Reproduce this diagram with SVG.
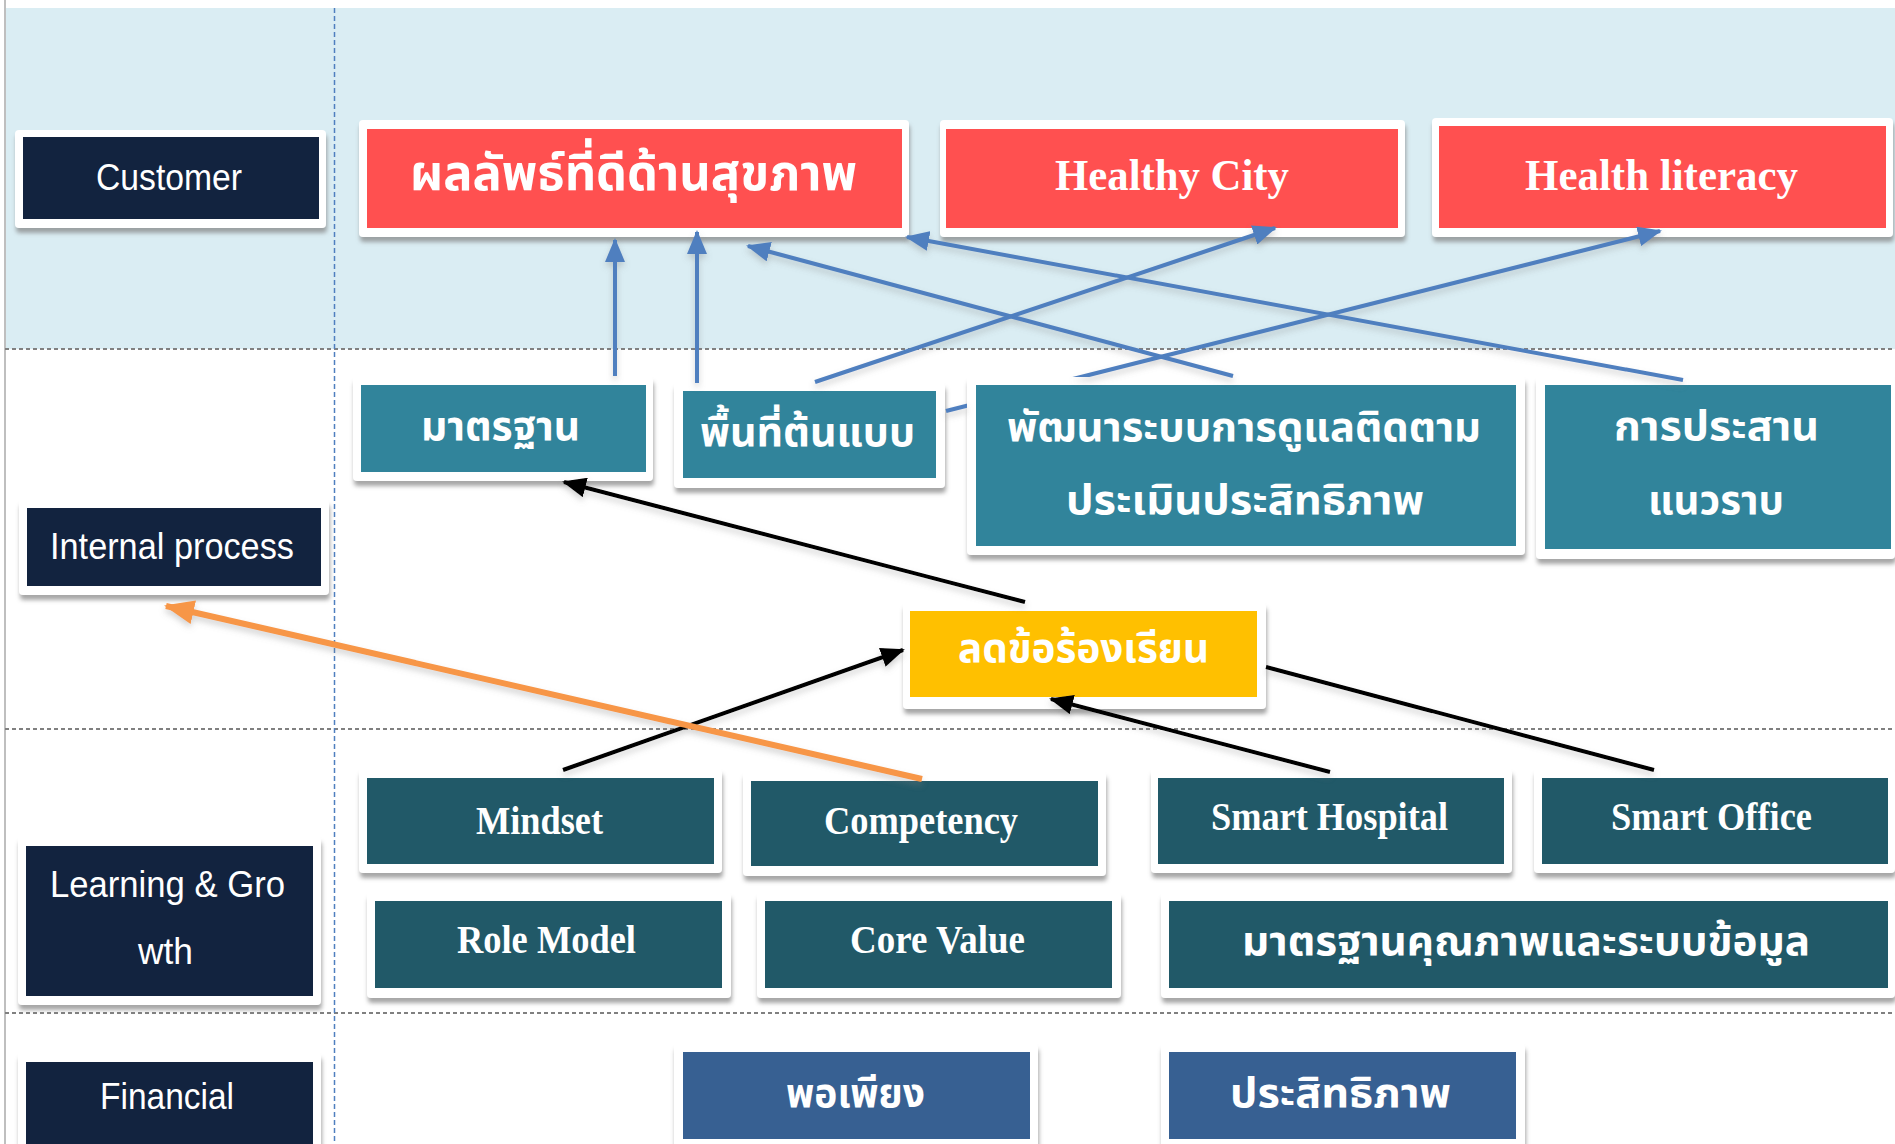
<svg xmlns="http://www.w3.org/2000/svg" width="1895" height="1144" viewBox="0 0 1895 1144">
<style>
.card{fill:#ffffff;filter:url(#sh)}
.navy{fill:#12233f}
.red{fill:#ff5050}
.teal{fill:#31849b}
.dteal{fill:#215968}
.fin{fill:#376092}
.yel{fill:#ffc000}
.lab{font-family:"Liberation Sans",Arial,sans-serif;font-size:36px;fill:#ffffff}
.th{font-family:"Noto Sans Thai","Noto Serif Thai","Loma","Garuda","Tlwg Typo",sans-serif;font-weight:bold;fill:#ffffff}
.en{font-family:"Liberation Serif","Times New Roman",serif;font-weight:bold;fill:#ffffff}
.dash{stroke:#808080;stroke-width:2;stroke-dasharray:4 3;fill:none}
.cb{stroke:#4f7fbf;stroke-width:4;fill:none;marker-end:url(#ab)}
.ck{stroke:#000000;stroke-width:4;fill:none}
.ca{marker-end:url(#ak)}
.co{stroke:#f79646;stroke-width:6;fill:none;marker-end:url(#ao)}
</style>
<defs>
<filter id="sh" x="-5%" y="-10%" width="110%" height="130%">
<feDropShadow dx="1" dy="5" stdDeviation="2" flood-color="#808080" flood-opacity="0.7"/>
</filter>
<filter id="lsh" x="-5%" y="-20%" width="110%" height="140%">
<feDropShadow dx="0" dy="4" stdDeviation="3" flood-color="#808080" flood-opacity="0.35"/>
</filter>
<clipPath id="behindCard">
<path clip-rule="evenodd" d="M0,0 H1895 V1144 H0 Z M967,377 H1525 V555 H967 Z"/>
</clipPath>
<marker id="ab" markerUnits="userSpaceOnUse" markerWidth="24" markerHeight="20" refX="22" refY="10" orient="auto">
<path d="M0,0 L24,10 L0,20 Z" fill="#4f7fbf"/>
</marker>
<marker id="ak" markerUnits="userSpaceOnUse" markerWidth="24" markerHeight="20" refX="22" refY="10" orient="auto">
<path d="M0,0 L24,10 L0,20 Z" fill="#000000"/>
</marker>
<marker id="ao" markerUnits="userSpaceOnUse" markerWidth="30" markerHeight="24" refX="28" refY="12" orient="auto">
<path d="M0,0 L30,12 L0,24 Z" fill="#f79646"/>
</marker>
</defs>

<g id="background">
<rect x="0" y="0" width="1895" height="1144" fill="#ffffff"/>
<rect x="5" y="8" width="1890" height="341" fill="#daedf3"/>
<line x1="5" y1="0" x2="5" y2="1144" stroke="#bfbfbf" stroke-width="2"/>
<line class="dash" x1="5" y1="349" x2="1895" y2="349"/>
<line class="dash" x1="5" y1="729" x2="1895" y2="729"/>
<line class="dash" x1="5" y1="1013" x2="1895" y2="1013"/>
<line x1="334.5" y1="8" x2="334.5" y2="1144" stroke="#4f7fbf" stroke-width="1.5" stroke-dasharray="5 3"/>
</g>

<g id="customer">
<rect class="card" x="15" y="130" width="311" height="98" rx="4"/>
<rect class="navy" x="23" y="137" width="296" height="82"/>
<text class="lab" x="169" y="190" text-anchor="middle" textLength="146" lengthAdjust="spacingAndGlyphs">Customer</text>
</g>
<g id="internal-process">
<rect class="card" x="19" y="500" width="310" height="95" rx="4"/>
<rect class="navy" x="27" y="508" width="294" height="78"/>
<text class="lab" x="172" y="559" text-anchor="middle" textLength="244" lengthAdjust="spacingAndGlyphs">Internal process</text>
</g>
<g id="learning-growth">
<rect class="card" x="18" y="837" width="303" height="168" rx="4"/>
<rect class="navy" x="26" y="846" width="287" height="150"/>
<text class="lab" x="167.5" y="897" text-anchor="middle" textLength="235" lengthAdjust="spacingAndGlyphs">Learning &amp; Gro</text>
<text class="lab" x="165.5" y="964" text-anchor="middle" textLength="55" lengthAdjust="spacingAndGlyphs">wth</text>
</g>
<g id="financial">
<rect class="card" x="18" y="1053" width="303" height="100" rx="4"/>
<rect class="navy" x="26" y="1062" width="287" height="82"/>
<text class="lab" x="167" y="1109" text-anchor="middle" textLength="134" lengthAdjust="spacingAndGlyphs">Financial</text>
</g>

<g id="health-outcome">
<rect class="card" x="359" y="120" width="550" height="117" rx="4"/>
<rect class="red" x="367" y="129" width="535" height="99"/>
<text class="th" x="633.5" y="190" font-size="50" text-anchor="middle" textLength="447" lengthAdjust="spacingAndGlyphs">ผลลัพธ์ที่ดีด้านสุขภาพ</text>
</g>
<g id="healthy-city">
<rect class="card" x="940" y="120" width="465" height="117" rx="4"/>
<rect class="red" x="946" y="129" width="452" height="99"/>
<text class="en" x="1172" y="190" font-size="44" text-anchor="middle" textLength="234" lengthAdjust="spacingAndGlyphs">Healthy City</text>
</g>
<g id="health-literacy">
<rect class="card" x="1432" y="118" width="461" height="119" rx="4"/>
<rect class="red" x="1439" y="126" width="447" height="102"/>
<text class="en" x="1661.5" y="190" font-size="44" text-anchor="middle" textLength="273" lengthAdjust="spacingAndGlyphs">Health literacy</text>
</g>

<g id="standard">
<rect class="card" x="353" y="377" width="300" height="104" rx="4"/>
<rect class="teal" x="361" y="385" width="285" height="87"/>
<text class="th" x="500.5" y="440" font-size="40" text-anchor="middle" textLength="159" lengthAdjust="spacingAndGlyphs">มาตรฐาน</text>
</g>
<g id="model-area">
<rect class="card" x="674" y="383" width="271" height="105" rx="4"/>
<rect class="teal" x="683" y="391" width="253" height="87"/>
<text class="th" x="807.5" y="446" font-size="40" text-anchor="middle" textLength="215" lengthAdjust="spacingAndGlyphs">พื้นที่ต้นแบบ</text>
</g>
<g id="monitoring-system">
<rect class="card" x="967" y="377" width="558" height="178" rx="4"/>
<rect class="teal" x="976" y="385" width="540" height="161"/>
<text class="th" x="1244" y="441" font-size="40" text-anchor="middle" textLength="474" lengthAdjust="spacingAndGlyphs">พัฒนาระบบการดูแลติดตาม</text>
<text class="th" x="1245" y="514" font-size="40" text-anchor="middle" textLength="358" lengthAdjust="spacingAndGlyphs">ประเมินประสิทธิภาพ</text>
</g>
<g id="coordination">
<rect class="card" x="1536" y="377" width="359" height="182" rx="4"/>
<rect class="teal" x="1545" y="385" width="346" height="164"/>
<text class="th" x="1716.5" y="440" font-size="40" text-anchor="middle" textLength="205" lengthAdjust="spacingAndGlyphs">การประสาน</text>
<text class="th" x="1716" y="514" font-size="40" text-anchor="middle" textLength="136" lengthAdjust="spacingAndGlyphs">แนวราบ</text>
</g>

<g id="reduce-complaints">
<rect class="card" x="903" y="603" width="363" height="106" rx="4"/>
<rect class="yel" x="910" y="611" width="347" height="86"/>
<text class="th" x="1083.5" y="662" font-size="40" text-anchor="middle" textLength="251" lengthAdjust="spacingAndGlyphs">ลดข้อร้องเรียน</text>
</g>

<g id="mindset">
<rect class="card" x="359" y="769" width="363" height="104" rx="4"/>
<rect class="dteal" x="367" y="778" width="347" height="86"/>
<text class="en" x="539.5" y="834" font-size="41" text-anchor="middle" textLength="127" lengthAdjust="spacingAndGlyphs">Mindset</text>
</g>
<g id="competency">
<rect class="card" x="743" y="772" width="363" height="104" rx="4"/>
<rect class="dteal" x="751" y="781" width="347" height="85"/>
<text class="en" x="921" y="834" font-size="41" text-anchor="middle" textLength="194" lengthAdjust="spacingAndGlyphs">Competency</text>
</g>
<g id="smart-hospital">
<rect class="card" x="1151" y="769" width="361" height="104" rx="4"/>
<rect class="dteal" x="1158" y="778" width="346" height="86"/>
<text class="en" x="1329.5" y="830" font-size="41" text-anchor="middle" textLength="237" lengthAdjust="spacingAndGlyphs">Smart Hospital</text>
</g>
<g id="smart-office">
<rect class="card" x="1534" y="769" width="361" height="104" rx="4"/>
<rect class="dteal" x="1542" y="778" width="346" height="86"/>
<text class="en" x="1711.5" y="830" font-size="41" text-anchor="middle" textLength="201" lengthAdjust="spacingAndGlyphs">Smart Office</text>
</g>
<g id="role-model">
<rect class="card" x="367" y="893" width="364" height="105" rx="4"/>
<rect class="dteal" x="375" y="901" width="347" height="87"/>
<text class="en" x="546.5" y="953" font-size="39" text-anchor="middle" textLength="179" lengthAdjust="spacingAndGlyphs">Role Model</text>
</g>
<g id="core-value">
<rect class="card" x="757" y="893" width="364" height="105" rx="4"/>
<rect class="dteal" x="765" y="901" width="347" height="87"/>
<text class="en" x="937.5" y="953" font-size="39" text-anchor="middle" textLength="175" lengthAdjust="spacingAndGlyphs">Core Value</text>
</g>
<g id="quality-data">
<rect class="card" x="1161" y="893" width="734" height="105" rx="4"/>
<rect class="dteal" x="1169" y="901" width="719" height="87"/>
<text class="th" x="1526" y="955" font-size="41" text-anchor="middle" textLength="568" lengthAdjust="spacingAndGlyphs">มาตรฐานคุณภาพและระบบข้อมูล</text>
</g>

<g id="sufficiency">
<rect class="card" x="674" y="1044" width="364" height="110" rx="4"/>
<rect class="fin" x="683" y="1052" width="347" height="87"/>
<text class="th" x="855.5" y="1107" font-size="41" text-anchor="middle" textLength="139" lengthAdjust="spacingAndGlyphs">พอเพียง</text>
</g>
<g id="efficiency">
<rect class="card" x="1161" y="1044" width="364" height="110" rx="4"/>
<rect class="fin" x="1169" y="1052" width="347" height="87"/>
<text class="th" x="1340.5" y="1107" font-size="41" text-anchor="middle" textLength="221" lengthAdjust="spacingAndGlyphs">ประสิทธิภาพ</text>
</g>

<g id="connectors" filter="url(#lsh)">
<line class="cb" x1="615" y1="376" x2="615" y2="240"/>
<line class="cb" x1="697" y1="383" x2="697" y2="232"/>
<line class="cb" x1="1233" y1="376" x2="748" y2="246"/>
<line class="cb" x1="1683" y1="380" x2="907" y2="237"/>
<line class="cb" x1="815" y1="382" x2="1275" y2="228"/>
<line class="cb" x1="946" y1="411" x2="1660" y2="231" clip-path="url(#behindCard)"/>
<line class="ck ca" x1="1025" y1="602" x2="564" y2="482"/>
<line class="ck ca" x1="563" y1="770" x2="903" y2="650"/>
<line class="ck ca" x1="1330" y1="772" x2="1051" y2="699"/>
<line class="ck" x1="1654" y1="770" x2="1266" y2="667"/>
<line class="co" x1="922" y1="779" x2="166" y2="606"/>
</g>
</svg>
